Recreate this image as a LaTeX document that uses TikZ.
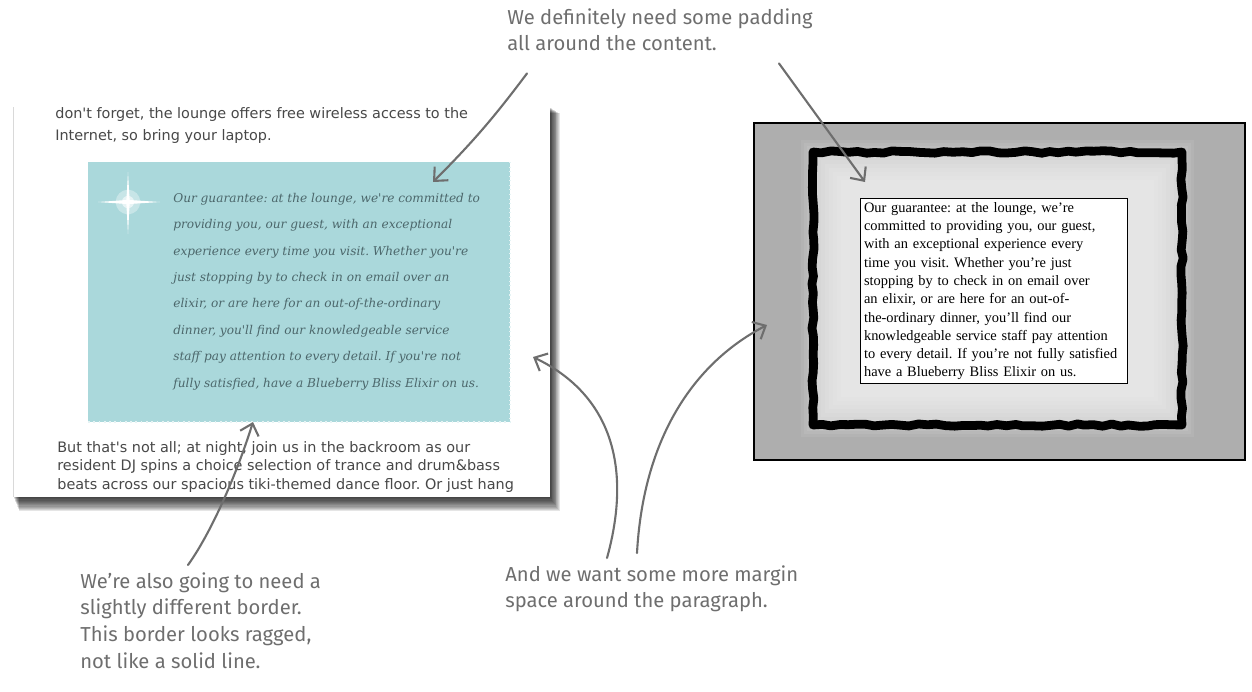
\documentclass[tikz,border=0pt]{standalone}
\usepackage{fontspec}
\setmainfont{Liberation Serif}
\newfontfamily\notefont{Fira Sans}
\newfontfamily\webfont{DejaVu Sans}
\newfontfamily\quotefont{DejaVu Serif}
\usetikzlibrary{arrows.meta,positioning,decorations.pathmorphing,calc}
\definecolor{note}{HTML}{6E6E6E}
\definecolor{quote}{HTML}{AAD8DB}
\definecolor{quotetext}{HTML}{4C676B}
\definecolor{webtext}{HTML}{484848}
\definecolor{frame}{HTML}{AEAEAE}
\definecolor{padding}{HTML}{D6D6D6}
\pgfmathsetseed{11}
\frenchspacing
\tikzset{
  notetext/.style={font=\notefont\fontsize{11.5}{15.2}\selectfont,text=note,align=left,inner sep=0pt},
  webtext/.style={font=\webfont\fontsize{8.2}{10.6}\selectfont,text=webtext,align=left,inner sep=0pt},
  quotetext/.style={font=\quotefont\itshape\fontsize{6.9}{15}\selectfont,text=quotetext,align=left,inner sep=0pt},
  notearrow/.style={draw=note,line width=1.2pt,line cap=round,-{Straight Barb[length=6pt,width=11pt,line width=1.2pt]}},
  ragged/.style={line width=5pt,line join=round,decorate,decoration={random steps,segment length=5pt,amplitude=0.7pt}}
}

\begin{document}
\begin{tikzpicture}[x=0.02cm,y=-0.02cm]
  \useasboundingbox (0,0) rectangle (1252,691);

  % Screenshot of the web page
  \foreach \s in {1,...,12}
    \fill[black,opacity=0.1] (13+0.5*\s,107+0.5*\s) rectangle (550+0.8*\s,497+1.2*\s);
  \fill[white] (13,107) rectangle (550,497);
  \draw[black!15] (13,107) -- (13,497);
  \node[webtext,anchor=north west,font=\webfont\fontsize{8.2}{12.6}\selectfont] (intro) at (55,107)
    {don't forget, the lounge offers free wireless access to the\\
     Internet, so bring your laptop.};
  \fill[quote] (88,162) rectangle (510,422);
  \draw[white!70!quote,line width=1pt,dotted] (88,422) -- (510,422);
  \draw[white!70!quote,line width=0.6pt,dotted] (510,162) -- (510,422);
  % Sparkle
  \fill[white,opacity=0.35] (128,202) circle (7pt);
  \fill[white,opacity=0.6] (128,202) circle (3.5pt);
  \fill[white] (128,172) -- (129.6,200) -- (160,202) -- (129.6,204) -- (128,234)
    -- (126.4,204) -- (98,202) -- (126.4,200) -- cycle;
  \node[quotetext,anchor=north west] (guarantee) at (173,193)
    {Our guarantee: at the lounge, we're committed to\\
     providing you, our guest, with an exceptional\\
     experience every time you visit. Whether you're\\
     just stopping by to check in on email over an\\
     elixir, or are here for an out-of-the-ordinary\\
     dinner, you'll find our knowledgeable service\\
     staff pay attention to every detail. If you're not\\
     fully satisfied, have a Blueberry Bliss Elixir on us.};
  \begin{scope}
    \clip (13,107) rectangle (550,497);
    \node[webtext,anchor=north west] (backroom) at (57,441)
      {But that's not all; at night, join us in the backroom as our\\
       resident DJ spins a choice selection of trance and drum\&bass\\
       beats across our spacious tiki-themed dance floor. Or just hang};
  \end{scope}

  % Sketch of the box model
  \draw[black,line width=0.8pt,fill=frame] (754,123) rectangle (1245,460);
  \foreach \s in {12,9,6,3}
    \fill[white,opacity=0.07] (813-\s,152-\s) rectangle (1182+\s,425+\s);
  \fill[padding] (813,152) rectangle (1182,425);
  \foreach \s in {2,...,7}
    \fill[white,opacity=0.09] (813+4*\s,152+4*\s) rectangle (1182-4*\s,425-4*\s);
  \draw[ragged] (813,152) rectangle (1182,425);
  \node[draw=black,line width=0.6pt,fill=white,anchor=north west,
        minimum width=152pt,minimum height=105.5pt,text width=148pt,
        inner xsep=2pt,inner ysep=1pt,align=left,
        font=\fontsize{8.2}{10.4}\selectfont] (para) at (860,198)
    {Our guarantee: at the lounge, we’re\\
     committed to providing you, our guest,\\
     with an exceptional experience every\\
     time you visit. Whether you’re just\\
     stopping by to check in on email over\\
     an elixir, or are here for an out-of-\\
     the-ordinary dinner, you’ll find our\\
     knowledgeable service staff pay attention\\
     to every detail. If you’re not fully satisfied\\
     have a Blueberry Bliss Elixir on us.};

  % Annotations
  \node[notetext,anchor=north west] (padnote) at (507,8)
    {We definitely need some padding\\all around the content.};
  \node[notetext,anchor=north west] (marginnote) at (505,565)
    {And we want some more margin\\space around the paragraph.};
  \node[notetext,anchor=north west] (bordernote) at (80,572)
    {We’re also going to need a\\slightly different border.\\
     This border looks ragged,\\not like a solid line.};

  \coordinate (teal top) at (433,182);
  \coordinate (padding top) at (865,182);
  \coordinate (teal bottom) at (253,422);
  \coordinate (teal right) at (533,357);
  \coordinate (frame left) at (767,325);

  \draw[notearrow] ($(padnote.south west)+(20,22)$) to[bend left=4] (teal top);
  \draw[notearrow] ($(padnote.south west)+(272,12)$) -- (padding top);
  \draw[notearrow] ($(bordernote.north west)+(108,-7)$)
    .. controls +(25,-35) and (238,470) .. (teal bottom);
  \draw[notearrow] ($(marginnote.north west)+(102,-7)$)
    .. controls +(25,-90) and (612,395) .. (teal right);
  \draw[notearrow] ($(marginnote.north west)+(132,-12)$)
    .. controls +(6,-110) and (690,365) .. (frame left);
\end{tikzpicture}
\end{document}
